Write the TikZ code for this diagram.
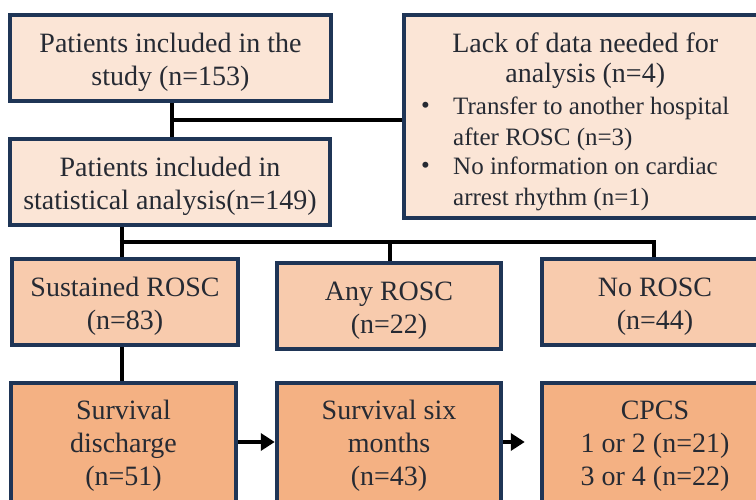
\documentclass[tikz,border=0pt]{standalone}
\usepackage{fontspec}
\setmainfont{Liberation Serif}
\usetikzlibrary{arrows.meta}
\definecolor{navy}{HTML}{1F3556}
\definecolor{fillA}{HTML}{FBE5D6}
\definecolor{fillB}{HTML}{F8CBAD}
\definecolor{fillC}{HTML}{F4B183}
\definecolor{txt}{HTML}{262A33}
\tikzset{
  box/.style={draw=navy, line width=4.5pt, rectangle, inner sep=0pt},
  label text/.style={inner sep=0pt, align=center, text=txt, font=\fontsize{28}{33}\selectfont},
  conn/.style={draw=black, line width=4.5pt},
  arr/.style={conn, -{Triangle[length=14pt,width=17pt]}},
}
\newcommand{\bulsz}{\fontsize{25}{30.5}\selectfont}
\begin{document}
\begin{tikzpicture}[x=1pt,y=-1pt]
\useasboundingbox (0,0) rectangle (756,500);
\clip (0,0) rectangle (756,500);
\fill[white] (0,0) rectangle (756,500);
% top row
\node[box, fill=fillA, minimum width=321pt, minimum height=86pt] (b1) at (170.5,58) {};
\node[label text] (b1t) at ([yshift=-4pt]b1.center) {Patients included in the\\study (n=153)};
\node[box, fill=fillA, minimum width=320pt, minimum height=86pt] (b2) at (170,182) {};
\node[label text] (b2t) at ([yshift=-4.5pt]b2.center) {Patients included in\\statistical analysis(n=149)};
\node[box, fill=fillA, minimum width=364pt, minimum height=203pt] (lack) at (586,116.5) {};
\node[text=txt, font=\fontsize{28}{30.5}\selectfont, anchor=north west, align=left, inner sep=0pt] (lacktxt) at (421,30.6)
  {\begin{tabular}{@{}p{32pt}@{}l@{}}
   \multicolumn{2}{@{}c@{}}{\hspace*{20pt}Lack of data needed for}\\
   \multicolumn{2}{@{}c@{}}{\hspace*{20pt}analysis (n=4)}\\[1.5pt]
   \bulsz\raisebox{1pt}{\textbullet} & \bulsz Transfer to another hospital\\
   & \bulsz after ROSC (n=3)\\[-1pt]
   \bulsz\raisebox{1pt}{\textbullet} & \bulsz No information on cardiac\\
   & \bulsz arrest rhythm (n=1)
   \end{tabular}};
% second row
\node[box, fill=fillB, minimum width=226pt, minimum height=86pt] (sr) at (125,302) {};
\node[label text] (srt) at ([yshift=-4.5pt]sr.center) {Sustained ROSC\\(n=83)};
\node[box, fill=fillB, minimum width=224pt, minimum height=86pt] (ar) at (389,306) {};
\node[label text] (art) at ([yshift=-4.5pt]ar.center) {Any ROSC\\(n=22)};
\node[box, fill=fillB, minimum width=226pt, minimum height=86pt] (nr) at (655,302) {};
\node[label text] (nrt) at ([yshift=-4.5pt]nr.center) {No ROSC\\(n=44)};
% third row
\node[box, fill=fillC, minimum width=225pt, minimum height=128pt] (sd) at (123.5,447) {};
\node[label text] (sdt) at ([yshift=1pt]sd.center) {Survival\\discharge\\(n=51)};
\node[box, fill=fillC, minimum width=224pt, minimum height=128pt] (ss) at (389,447) {};
\node[label text] (sst) at ([yshift=1pt]ss.center) {Survival six\\months\\(n=43)};
\node[box, fill=fillC, minimum width=226pt, minimum height=128pt] (cp) at (655,447) {};
\node[label text] (cpt) at ([yshift=1pt]cp.center) {CPCS\\1 or 2 (n=21)\\3 or 4 (n=22)};
% connectors
\coordinate (j1) at (172,120);
\draw[conn] (b1.south -| j1) -- (b2.north -| j1);
\draw[conn] (j1) -- (j1 -| lack.west);
\coordinate (j2) at (122,242);
\coordinate (j3) at (390,242);
\coordinate (j4) at (654,242);
\draw[conn] (b2.south -| j2) -- (j2);
\draw[conn] ([xshift=-2.25pt]j2) -- ([xshift=2.25pt]j4);
\draw[conn] (j2) -- (sr.north -| j2);
\draw[conn] (j3) -- (ar.north -| j3);
\draw[conn] (j4) -- (nr.north -| j4);
\draw[conn] (sr.south -| j2) -- (sd.north -| j2);
\draw[arr] (sd.east |- 0,442) -- (ss.west |- 0,442);
\draw[arr, shorten >=15pt] (ss.east |- 0,442) -- (cp.west |- 0,442);
\end{tikzpicture}
\end{document}
